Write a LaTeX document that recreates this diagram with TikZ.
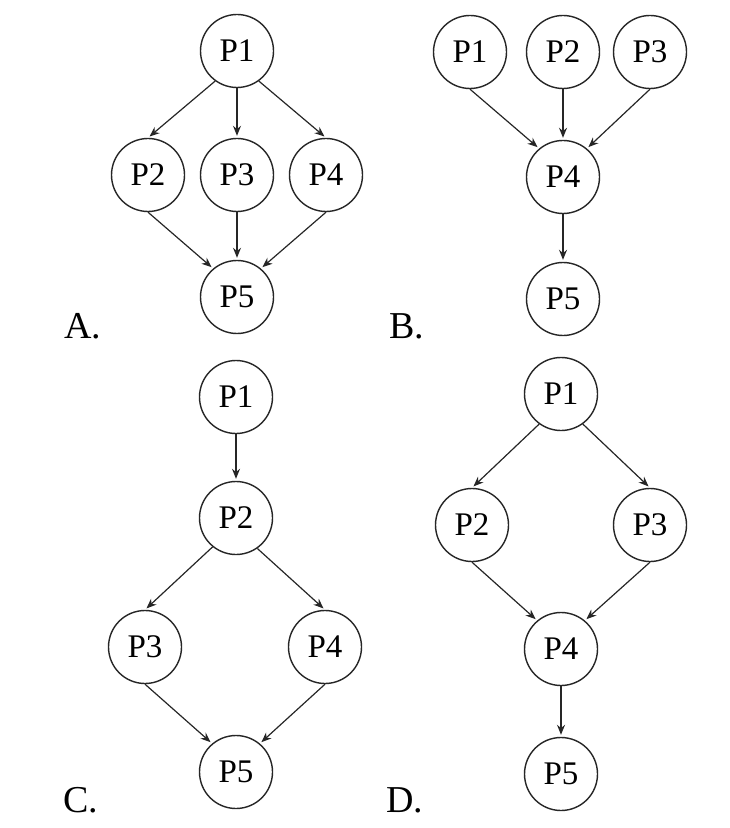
\documentclass[tikz,border=0pt]{standalone}
\usepackage{fontspec}
\setmainfont{Liberation Serif}
\usetikzlibrary{arrows.meta}

\begin{document}
\begin{tikzpicture}[x=0.5pt,y=-0.5pt,
        proc/.style={draw=black!85,circle,minimum size=36.5pt,inner sep=0pt,line width=0.7pt,
            font=\fontsize{16.5}{18}\selectfont},
        optlabel/.style={font=\fontsize{19}{22}\selectfont},
        flow/.style={draw=black!85,line width=0.6pt,-{Stealth[length=5pt,width=4pt]},shorten >=1pt}]
    \useasboundingbox (0,0) rectangle (729,828);
    % option A
    \node[proc] (a1) at (237,51) {P1};
    \node[proc] (a2) at (148,175) {P2};
    \node[proc] (a3) at (237,175) {P3};
    \node[proc] (a4) at (326,175) {P4};
    \node[proc] (a5) at (237,297) {P5};
    \node[optlabel] (la) at (83,326) {A.};
    \draw[flow] (a1.234) -- (a2.north);
    \draw[flow] (a1.south) -- (a3.north);
    \draw[flow] (a1.306) -- (a4.north);
    \draw[flow] (a2.south) -- (a5.130);
    \draw[flow] (a3.south) -- (a5.north);
    \draw[flow] (a4.south) -- (a5.50);
    % option B
    \node[proc] (b1) at (470,52) {P1};
    \node[proc] (b2) at (563,52) {P2};
    \node[proc] (b3) at (650,52) {P3};
    \node[proc] (b4) at (563,177) {P4};
    \node[proc] (b5) at (563,299) {P5};
    \node[optlabel] (lb) at (407,326) {B.};
    \draw[flow] (b1.south) -- (b4.130);
    \draw[flow] (b2.south) -- (b4.north);
    \draw[flow] (b3.south) -- (b4.50);
    \draw[flow] (b4.south) -- (b5.north);
    % option C
    \node[proc] (c1) at (236,397) {P1};
    \node[proc] (c2) at (236,518) {P2};
    \node[proc] (c3) at (145,647) {P3};
    \node[proc] (c4) at (325,647) {P4};
    \node[proc] (c5) at (236,772) {P5};
    \node[optlabel] (lc) at (81,800) {C.};
    \draw[flow] (c1.south) -- (c2.north);
    \draw[flow] (c2.231) -- (c3.north);
    \draw[flow] (c2.305) -- (c4.north);
    \draw[flow] (c3.south) -- (c5.130);
    \draw[flow] (c4.south) -- (c5.50);
    % option D
    \node[proc] (d1) at (561,394) {P1};
    \node[proc] (d2) at (472,525) {P2};
    \node[proc] (d3) at (650,525) {P3};
    \node[proc] (d4) at (561,649) {P4};
    \node[proc] (d5) at (561,774) {P5};
    \node[optlabel] (ld) at (405,800) {D.};
    \draw[flow] (d1.234) -- (d2.north);
    \draw[flow] (d1.306) -- (d3.north);
    \draw[flow] (d2.south) -- (d4.130);
    \draw[flow] (d3.south) -- (d4.50);
    \draw[flow] (d4.south) -- (d5.north);
\end{tikzpicture}
\end{document}
